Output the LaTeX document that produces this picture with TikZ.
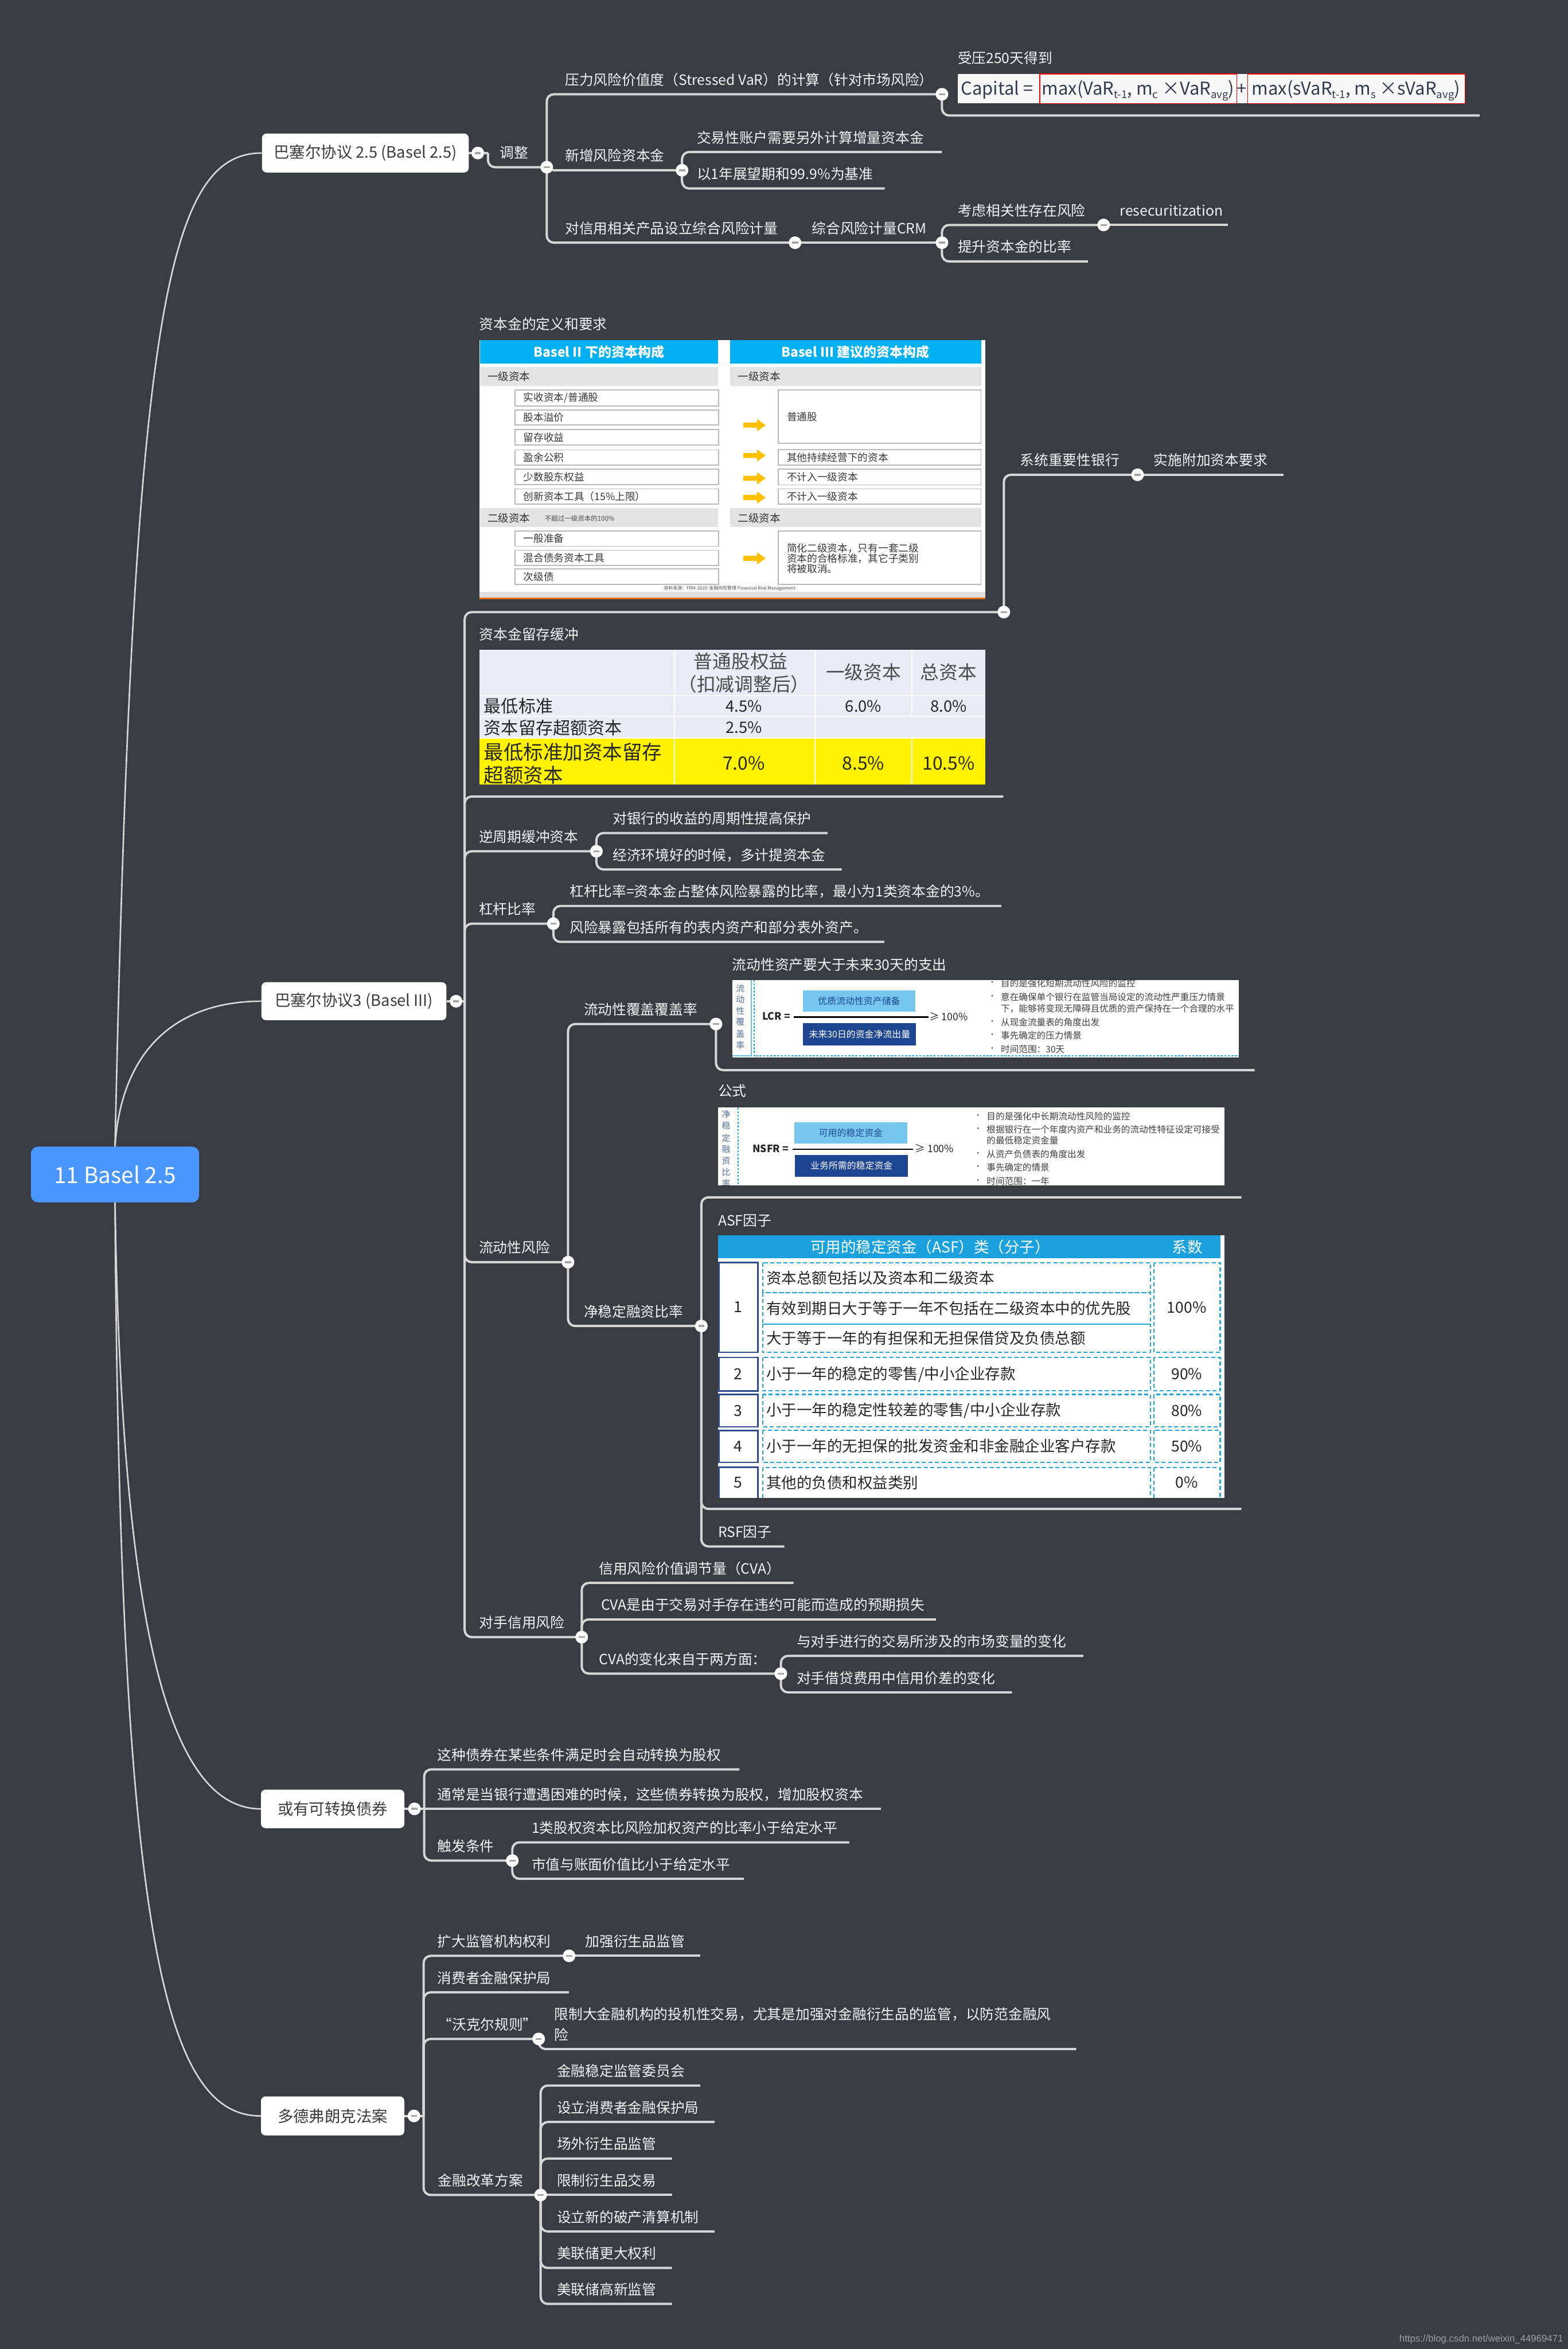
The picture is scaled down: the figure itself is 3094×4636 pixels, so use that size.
\documentclass[tikz,border=0pt]{standalone}
\usepackage{fontspec}
\setmainfont{Noto Sans CJK SC}
\newfontfamily\wmfont{Liberation Sans}
\usetikzlibrary{calc}
\definecolor{bg}{RGB}{57,60,66}
\definecolor{lineC}{RGB}{214,214,214}
\definecolor{txtC}{RGB}{242,242,242}
\definecolor{mainTxt}{RGB}{60,60,60}
\definecolor{rootC}{RGB}{74,150,255}
\definecolor{hdrBlue}{RGB}{0,176,240}
\definecolor{arrowOr}{RGB}{255,192,0}
\definecolor{footOr}{RGB}{228,108,10}
\definecolor{lav}{RGB}{233,235,245}
\definecolor{ltBlue}{RGB}{118,199,239}
\definecolor{dkBlue}{RGB}{30,69,145}
\definecolor{cyanD}{RGB}{30,164,222}
\definecolor{asfHdr}{RGB}{27,161,222}
\definecolor{numBlue}{RGB}{44,76,140}
\definecolor{vtxt}{RGB}{80,110,160}
\definecolor{fcol}{RGB}{50,60,80}
\newcommand\fsz[2]{\fontsize{#1}{#2}\selectfont}
\newcommand\sbs[1]{\raisebox{-7pt}{\fsz{21}{24}#1}}
\tikzset{
  br/.style={draw=lineC, line width=4.5pt, rounded corners=14pt},
  rootline/.style={draw=lineC, line width=3pt},
  tp/.style={text=txtC, font=\fsz{28}{34}, anchor=base west, inner sep=0pt},
  ttl/.style={text=txtC, font=\fsz{28}{34}, anchor=base west, inner sep=0pt},
  mainbox/.style={fill=white, rounded corners=9pt, text=mainTxt, font=\fsz{31}{36}, inner sep=0pt},
  clpst/.style={circle, fill=white, minimum size=25pt, inner sep=0pt,
    path picture={\fill[gray!70] ([xshift=-6pt,yshift=-2pt]path picture bounding box.center) rectangle ([xshift=6pt,yshift=2pt]path picture bounding box.center);}},
  dtxt/.style={anchor=west, font=\fsz{20}{24}, text=black!78, inner sep=0pt},
  asft/.style={anchor=west, font=\fsz{30}{34}, text=black!85, inner sep=0pt},
  asfn/.style={font=\fsz{30}{34}, text=black!85, inner sep=0pt},
  blt/.style={anchor=west, font=\fsz{17.7}{21}, text=black!75, inner sep=0pt},
  tbl/.style={font=\fsz{34}{40}, text=black!85, inner sep=0pt},
  dsh/.style={draw=cyanD, line width=2.5pt, dash pattern=on 8pt off 5pt},
}
\newcommand\topic[6]{%
  \coordinate (#1-e) at (#4,#3);
  \draw[br] (#5) |- (#1-e);
  \node[tp] (#1) at (#2,#3-18) {#6};}
\newcommand\topicS[6]{%
  \coordinate (#1-e) at (#4,#3);
  \draw[br] (#5) -- (#1-e);
  \node[tp] (#1) at (#2,#3-18) {#6};}
\newcommand\collapsemark[1]{\node[clpst] at (#1) {};}
\newcommand\dbox[5]{\draw[gray!55, line width=2pt, fill=white] (#1,#3) rectangle (#2,#4);
  \node[dtxt] at (#1+17,{(#3+#4)/2}) {#5};}
\newcommand\oarrow[1]{\fill[arrowOr] (1467,#1-5) -- (1494,#1-5) -- (1494,#1-12) -- (1511,#1) -- (1494,#1+12) -- (1494,#1+5) -- (1467,#1+5) -- cycle;}

\begin{document}
\begin{tikzpicture}[x=1pt,y=-1pt]
\fill[bg] (0,0) rectangle (3094,4636);
\useasboundingbox (0,0) rectangle (3094,4636);

% ---------------- root and main nodes
\node[fill=rootC, rounded corners=14pt, minimum width=332pt, minimum height=110pt, text=white, font=\fsz{44}{50}, inner sep=0pt] (root) at (227,2318) {11 Basel 2.5};
\node[mainbox, minimum width=408pt, minimum height=77pt] (m1) at (721,302) {巴塞尔协议 2.5 (Basel 2.5)};
\node[mainbox, minimum width=365pt, minimum height=75pt] (m2) at (698.5,1976) {巴塞尔协议3 (Basel III)};
\node[mainbox, minimum width=283pt, minimum height=76pt] (m3) at (656.5,3570) {或有可转换债券};
\node[mainbox, minimum width=283pt, minimum height=77pt] (m4) at (656.5,4176) {多德弗朗克法案};

\draw[rootline] (root.north) .. controls (262,620) and (330,302) .. (m1.west);
\draw[rootline] (root.north) .. controls (240,2060) and (360,1976) .. (m2.west);
\draw[rootline] (root.south) .. controls (240,3200) and (330,3570) .. (m3.west);
\draw[rootline] (root.south) .. controls (236,3850) and (330,4176) .. (m4.west);

% ---------------- Basel 2.5
\coordinate (m1c) at (943,302);
\coordinate (m1t) at (963,302);
\draw[br] (m1.east) -- (m1t);
\topic{tz}{986}{330}{1079}{m1t}{调整}
\topic{a1}{1115}{186}{1859}{tz-e}{压力风险价值度（Stressed VaR）的计算（针对市场风险）}
\topic{a2}{1115}{336}{1346}{tz-e}{新增风险资本金}
\topic{a3}{1115}{479}{1569}{tz-e}{对信用相关产品设立综合风险计量}
\coordinate (fm-e) at (2920,228);
\draw[br] (a1-e) |- (fm-e);
\node[ttl] (fmt) at (1890,125) {受压250天得到};
\fill[gray!6] (1890,146) rectangle (2891,204);
\draw[red, line width=1.5pt] (2052,146) rectangle (2441,204);
\draw[red, line width=1.5pt] (2462,146) rectangle (2891,204);
\node[anchor=base west, text=fcol, font=\fsz{35}{40}, inner sep=0pt] (fm1) at (1896,187) {Capital =};
\node[anchor=base, text=fcol, font=\fsz{35}{40}, inner sep=0pt] (fm2) at (2246,187) {max(VaR\sbs{t-1}, m\sbs{c} ×VaR\sbs{avg})};
\node[anchor=base, text=fcol, font=\fsz{35}{40}, inner sep=0pt] (fm3) at (2451,187) {+};
\node[anchor=base, text=fcol, font=\fsz{35}{40}, inner sep=0pt] (fm4) at (2676,187) {max(sVaR\sbs{t-1}, m\sbs{s} ×sVaR\sbs{avg})};
\topic{a2a}{1375}{300}{1859}{a2-e}{交易性账户需要另外计算增量资本金}
\topic{a2b}{1375}{372}{1746}{a2-e}{以1年展望期和99.9\%为基准}
\topicS{crm}{1602}{479}{1859}{a3-e}{综合风险计量CRM}
\topic{crm1}{1890}{444}{2178}{crm-e}{考虑相关性存在风险}
\topicS{rsec}{2210}{444}{2423}{crm1-e}{resecuritization}
\topic{crm2}{1890}{516}{2147}{crm-e}{提升资本金的比率}

% ---------------- Basel III
\coordinate (m2c) at (900,1976);
\coordinate (m2t) at (917,1976);
\draw[br] (m2.east) -- (m2t);
\coordinate (def-e) at (1981,1208);
\draw[br] (m2t) |- (def-e);
\node[ttl] (deft) at (946,650) {资本金的定义和要求};
\topic{sib}{2013}{937}{2245}{def-e}{系统重要性银行}
\topicS{sib1}{2277}{937}{2533}{sib-e}{实施附加资本要求}
\coordinate (buf-e) at (1980,1572);
\draw[br] (m2t) |- (buf-e);
\node[ttl] (buft) at (946,1262) {资本金留存缓冲};
\topic{ctc}{945}{1680}{1177}{m2t}{逆周期缓冲资本}
\topic{ctc1}{1209}{1644}{1633}{ctc-e}{对银行的收益的周期性提高保护}
\topic{ctc2}{1209}{1716}{1661}{ctc-e}{经济环境好的时候，多计提资本金}
\topic{lev}{945}{1823}{1092}{m2t}{杠杆比率}
\topic{lev1}{1124}{1788}{1976}{lev-e}{杠杆比率=资本金占整体风险暴露的比率，最小为1类资本金的3\%。}
\topic{lev2}{1124}{1859}{1745}{lev-e}{风险暴露包括所有的表内资产和部分表外资产。}
\topic{liq}{945}{2491}{1121}{m2t}{流动性风险}
\topic{lcr}{1152}{2021}{1413}{liq-e}{流动性覆盖覆盖率}
\coordinate (lcri-e) at (2476,2112);
\draw[br] (lcr-e) |- (lcri-e);
\node[ttl] (lcrt) at (1445,1914) {流动性资产要大于未来30天的支出};
\topic{nsfr}{1152}{2617}{1384}{liq-e}{净稳定融资比率}
\coordinate (nf-e) at (2450,2363);
\draw[br] (nsfr-e) |- (nf-e);
\node[ttl] (nft) at (1417,2164) {公式};
\coordinate (asf-e) at (2450,2978);
\draw[br] (nsfr-e) |- (asf-e);
\node[ttl] (asft) at (1417,2419) {ASF因子};
\topic{rsf}{1417}{3052}{1548}{nsfr-e}{RSF因子}
\topic{cp}{946}{3231}{1148}{m2t}{对手信用风险}
\topic{cp1}{1182}{3124}{1566}{cp-e}{信用风险价值调节量（CVA）}
\topic{cp2}{1186}{3196}{1847}{cp-e}{CVA是由于交易对手存在违约可能而造成的预期损失}
\topic{cp3}{1182}{3303}{1541}{cp-e}{CVA的变化来自于两方面：}
\topic{cp31}{1572}{3268}{2138}{cp3-e}{与对手进行的交易所涉及的市场变量的变化}
\topic{cp32}{1572}{3340}{1997}{cp3-e}{对手借贷费用中信用价差的变化}

% capital definition picture
\fill[white] (946,671) rectangle (1945,1183);
\fill[hdrBlue] (947,671) rectangle (1417,718);
\fill[hdrBlue] (1441,671) rectangle (1936,718);
\node[font=\fsz{26}{30}\bfseries, text=white] (dh1) at (1182,695) {Basel II 下的资本构成};
\node[font=\fsz{26}{30}\bfseries, text=white] (dh2) at (1688,695) {Basel III 建议的资本构成};
\fill[gray!22] (947,724) rectangle (1417,762);
\fill[gray!22] (1441,724) rectangle (1936,762);
\node[anchor=west, font=\fsz{21}{24}, text=black!80, inner sep=0pt] (ds1) at (962,743) {一级资本};
\node[anchor=west, font=\fsz{21}{24}, text=black!80, inner sep=0pt] (ds2) at (1456,743) {一级资本};
\dbox{1016}{1418}{770}{801}{实收资本/普通股}
\dbox{1016}{1418}{809}{839}{股本溢价}
\dbox{1016}{1418}{848}{878}{留存收益}
\dbox{1016}{1418}{888}{918}{盈余公积}
\dbox{1016}{1418}{926}{956}{少数股东权益}
\dbox{1016}{1418}{965}{995}{创新资本工具（15\%上限）}
\fill[gray!22] (947,1003) rectangle (1417,1040);
\fill[gray!22] (1441,1003) rectangle (1936,1040);
\node[anchor=west, font=\fsz{21}{24}, text=black!80, inner sep=0pt] (ds3) at (962,1022) {二级资本};
\node[anchor=west, font=\fsz{13}{16}, text=black!70, inner sep=0pt] (ds4) at (1075,1023) {不超过一级资本的100\%};
\node[anchor=west, font=\fsz{21}{24}, text=black!80, inner sep=0pt] (ds5) at (1456,1022) {二级资本};
\dbox{1016}{1418}{1048}{1078}{一般准备}
\dbox{1016}{1418}{1086}{1116}{混合债务资本工具}
\dbox{1016}{1418}{1123}{1153}{次级债}
\dbox{1536}{1936}{770}{875}{普通股}
\dbox{1536}{1936}{887}{918}{其他持续经营下的资本}
\dbox{1536}{1936}{926}{957}{不计入一级资本}
\dbox{1536}{1936}{965}{995}{不计入一级资本}
\draw[gray!55, line width=2pt, fill=white] (1536,1048) rectangle (1936,1153);
\node[anchor=north west, align=left, font=\fsz{20}{20.5}, text=black!78, inner sep=0pt] (ds6) at (1553,1072) {简化二级资本，只有一套二级\\资本的合格标准，其它子类别\\将被取消。};
\oarrow{839}\oarrow{899}\oarrow{944}\oarrow{982}\oarrow{1102}
\node[font=\fsz{9}{10}, text=black!70] (dsf) at (1440,1161) {资料来源：FRM-2020-金融风险管理 Financial Risk Management};
\fill[gray!25] (946,1168) rectangle (1945,1179);
\fill[footOr] (946,1179) rectangle (1945,1183);

% capital buffer table
\fill[lav] (946,1282) rectangle (1945,1457);
\fill[yellow] (946,1457) rectangle (1945,1548);
\draw[white, line width=2.5pt] (1331,1282) -- (1331,1548) (1608,1282) -- (1608,1548)
  (1800,1282) -- (1800,1414) (1800,1457) -- (1800,1548)
  (946,1373) -- (1945,1373) (946,1414) -- (1945,1414) (946,1457) -- (1945,1457);
\node[font=\fsz{37}{42}, text=black!70, inner sep=0pt] (tb1) at (1462,1305) {普通股权益};
\node[font=\fsz{37}{42}, text=black!70, inner sep=0pt] (tb2) at (1468,1350) {（扣减调整后）};
\node[font=\fsz{37}{42}, text=black!70, inner sep=0pt] (tb3) at (1704,1327) {一级资本};
\node[font=\fsz{37}{42}, text=black!70, inner sep=0pt] (tb4) at (1872,1327) {总资本};
\node[tbl, anchor=west] (tb5) at (955,1394) {最低标准};
\node[tbl, font=\fsz{31}{36}] (tb6) at (1468,1394) {4.5\%};
\node[tbl, font=\fsz{31}{36}] (tb7) at (1704,1394) {6.0\%};
\node[tbl, font=\fsz{31}{36}] (tb8) at (1872,1394) {8.0\%};
\node[tbl, anchor=west] (tb9) at (955,1436) {资本留存超额资本};
\node[tbl, font=\fsz{31}{36}] (tb10) at (1468,1436) {2.5\%};
\node[tbl, anchor=west, font=\fsz{39}{44}] (tb11) at (955,1484) {最低标准加资本留存};
\node[tbl, anchor=west, font=\fsz{39}{44}] (tb12) at (955,1530) {超额资本};
\node[tbl, font=\fsz{36}{40}] (tb13) at (1468,1506) {7.0\%};
\node[tbl, font=\fsz{36}{40}] (tb14) at (1704,1506) {8.5\%};
\node[tbl, font=\fsz{36}{40}] (tb15) at (1872,1506) {10.5\%};

% LCR picture
\begin{scope}
\clip (1445,1934) rectangle (2445,2087);
\fill[white] (1445,1934) rectangle (2445,2087);
\draw[cyanD!70, line width=2pt] (1483,1934) -- (1483,2084) -- (1445,2084);
\draw[cyanD, line width=2pt, dash pattern=on 4pt off 3pt] (1488,1934) -- (1488,2084) -- (2445,2084);
\foreach \ch/\yy in {流/1951,动/1973,性/1995,覆/2017,盖/2040,率/2063} \node[text=vtxt, font=\fsz{17}{20}] at (1461,\yy) {\ch};
\node[font=\fsz{20}{24}\bfseries, text=black!85] (lc1) at (1532,2006) {LCR =};
\draw[black, line width=3pt] (1566,2007) -- (1832,2007);
\node[fill=ltBlue, minimum width=221pt, minimum height=42pt, inner sep=0pt, font=\fsz{18}{22}, text=dkBlue] (lc2) at (1695.5,1976) {优质流动性资产储备};
\node[fill=dkBlue, minimum width=223pt, minimum height=44pt, inner sep=0pt, font=\fsz{18}{22}, text=white] (lc3) at (1696.5,2041) {未来30日的资金净流出量};
\node[font=\fsz{20}{24}, text=black!85] (lc4) at (1872,2006) {≥ 100\%};
\foreach \yy in {1941,1968,2017,2044,2071} \node[font=\fsz{14}{16}, text=black!75] at (1958,\yy) {•};
\node[blt] (lb1) at (1975,1941) {目的是强化短期流动性风险的监控};
\node[blt] (lb2) at (1975,1968) {意在确保单个银行在监管当局设定的流动性严重压力情景};
\node[blt] (lb3) at (1975,1990) {下，能够将变现无障碍且优质的资产保持在一个合理的水平};
\node[blt] (lb4) at (1975,2017) {从现金流量表的角度出发};
\node[blt] (lb5) at (1975,2044) {事先确定的压力情景};
\node[blt] (lb6) at (1975,2071) {时间范围：30天};
\end{scope}

% NSFR picture
\begin{scope}
\clip (1417,2186) rectangle (2417,2339);
\fill[white] (1417,2186) rectangle (2417,2339);
\draw[cyanD, line width=2pt, dash pattern=on 4pt off 3pt] (1457,2186) -- (1457,2339);
\foreach \ch/\yy in {净/2199,稳/2222,定/2246,融/2268,资/2291,比/2313,率/2336} \node[text=vtxt, font=\fsz{17}{20}] at (1433,\yy) {\ch};
\node[font=\fsz{20}{24}\bfseries, text=black!85] (nf1) at (1521,2267) {NSFR =};
\draw[black, line width=3pt] (1564,2268) -- (1802,2268);
\node[fill=ltBlue, minimum width=222pt, minimum height=42pt, inner sep=0pt, font=\fsz{18}{22}, text=dkBlue] (nf2) at (1679,2236) {可用的稳定资金};
\node[fill=dkBlue, minimum width=223pt, minimum height=43pt, inner sep=0pt, font=\fsz{18}{22}, text=white] (nf3) at (1680.5,2300.5) {业务所需的稳定资金};
\node[font=\fsz{20}{24}, text=black!85] (nf4) at (1844,2267) {≥ 100\%};
\foreach \yy in {2203,2229,2278,2304,2331} \node[font=\fsz{14}{16}, text=black!75] at (1930,\yy) {•};
\node[blt] (nb1) at (1947,2203) {目的是强化中长期流动性风险的监控};
\node[blt] (nb2) at (1947,2229) {根据银行在一个年度内资产和业务的流动性特征设定可接受};
\node[blt] (nb3) at (1947,2251) {的最低稳定资金量};
\node[blt] (nb4) at (1947,2278) {从资产负债表的角度出发};
\node[blt] (nb5) at (1947,2304) {事先确定的情景};
\node[blt] (nb6) at (1947,2331) {时间范围：一年};
\end{scope}

% ASF table
\begin{scope}
\clip (1417,2438) rectangle (2417,2956);
\fill[white] (1417,2438) rectangle (2417,2956);
\fill[asfHdr] (1417,2438) rectangle (2408,2483);
\node[text=white, font=\fsz{30}{34}] (ah1) at (1836,2461) {可用的稳定资金（ASF）类（分子）};
\node[text=white, font=\fsz{30}{34}] (ah2) at (2343,2461) {系数};
\draw[numBlue, line width=3pt] (1419,2492) rectangle (1496,2669)
  (1419,2679) rectangle (1496,2745) (1419,2752) rectangle (1496,2816)
  (1419,2823) rectangle (1496,2886) (1419,2896) rectangle (1496,2970);
\draw[dsh] (1505,2492) rectangle (2270,2551) (1505,2551) rectangle (2270,2613) (1505,2613) rectangle (2270,2669)
  (2277,2492) rectangle (2408,2669)
  (1505,2679) rectangle (2270,2745) (2277,2679) rectangle (2408,2745)
  (1505,2752) rectangle (2270,2816) (2277,2752) rectangle (2408,2816)
  (1505,2823) rectangle (2270,2886) (2277,2823) rectangle (2408,2886)
  (1505,2896) rectangle (2270,2970) (2277,2896) rectangle (2408,2970);
\node[asfn] (an1) at (1457,2580) {1};
\node[asfn] (an2) at (1457,2712) {2};
\node[asfn] (an3) at (1457,2784) {3};
\node[asfn] (an4) at (1457,2854) {4};
\node[asfn] (an5) at (1457,2926) {5};
\node[asft] (at1) at (1512,2522) {资本总额包括以及资本和二级资本};
\node[asft] (at2) at (1512,2582) {有效到期日大于等于一年不包括在二级资本中的优先股};
\node[asft] (at3) at (1512,2641) {大于等于一年的有担保和无担保借贷及负债总额};
\node[asft] (at4) at (1512,2712) {小于一年的稳定的零售/中小企业存款};
\node[asft] (at5) at (1512,2784) {小于一年的稳定性较差的零售/中小企业存款};
\node[asft] (at6) at (1512,2854) {小于一年的无担保的批发资金和非金融企业客户存款};
\node[asft] (at7) at (1512,2926) {其他的负债和权益类别};
\node[asfn] (ac1) at (2342,2580) {100\%};
\node[asfn] (ac2) at (2342,2712) {90\%};
\node[asfn] (ac3) at (2342,2784) {80\%};
\node[asfn] (ac4) at (2342,2854) {50\%};
\node[asfn] (ac5) at (2342,2926) {0\%};
\end{scope}

% ---------------- contingent convertibles
\coordinate (m3c) at (818,3570);
\coordinate (m3t) at (837,3570);
\draw[br] (m3.east) -- (m3t);
\topic{cc1}{863}{3492}{1459}{m3t}{这种债券在某些条件满足时会自动转换为股权}
\topicS{cc2}{863}{3570}{1738}{m3t}{通常是当银行遭遇困难的时候，这些债券转换为股权，增加股权资本}
\topic{cc3}{863}{3672}{1011}{m3t}{触发条件}
\topic{cc31}{1049}{3636}{1676}{cc3-e}{1类股权资本比风险加权资产的比率小于给定水平}
\topic{cc32}{1049}{3708}{1468}{cc3-e}{市值与账面价值比小于给定水平}

% ---------------- Dodd-Frank
\coordinate (m4c) at (817,4176);
\coordinate (m4t) at (836,4176);
\draw[br] (m4.east) -- (m4t);
\topic{df1}{863}{3860}{1123}{m4t}{扩大监管机构权利}
\topicS{df11}{1155}{3860}{1382}{df1-e}{加强衍生品监管}
\topic{df2}{863}{3932}{1123}{m4t}{消费者金融保护局}
\topic{df3}{864}{4024}{1063}{m4t}{“沃克尔规则”}
\coordinate (df31-e) at (2124,4044);
\draw[br] (df3-e) |- (df31-e);
\node[tp, align=left, font=\fsz{28}{40}] (df31) at (1094,4026) {限制大金融机构的投机性交易，尤其是加强对金融衍生品的监管，以防范金融风\\险};
\topic{df4}{864}{4332}{1067}{m4t}{金融改革方案}
\topic{fr1}{1099}{4116}{1382}{df4-e}{金融稳定监管委员会}
\topic{fr2}{1099}{4188}{1410}{df4-e}{设立消费者金融保护局}
\topic{fr3}{1099}{4260}{1326}{df4-e}{场外衍生品监管}
\topicS{fr4}{1099}{4332}{1326}{df4-e}{限制衍生品交易}
\topic{fr5}{1099}{4404}{1410}{df4-e}{设立新的破产清算机制}
\topic{fr6}{1099}{4476}{1326}{df4-e}{美联储更大权利}
\topic{fr7}{1099}{4547}{1326}{df4-e}{美联储高新监管}

% ---------------- collapse marks
\collapsemark{m1c}\collapsemark{tz-e}\collapsemark{a1-e}\collapsemark{a2-e}\collapsemark{a3-e}
\collapsemark{crm-e}\collapsemark{crm1-e}
\collapsemark{m2c}\collapsemark{def-e}\collapsemark{sib-e}\collapsemark{ctc-e}\collapsemark{lev-e}
\collapsemark{liq-e}\collapsemark{lcr-e}\collapsemark{nsfr-e}\collapsemark{cp-e}\collapsemark{cp3-e}
\collapsemark{m3c}\collapsemark{cc3-e}
\collapsemark{m4c}\collapsemark{df1-e}\collapsemark{df3-e}\collapsemark{df4-e}

\node[anchor=base east, font=\wmfont\fsz{19}{22}, text=gray!75, inner sep=0pt] (wm) at (3085,4622) {https://blog.csdn.net/weixin\_44969471};
\end{tikzpicture}
\end{document}
